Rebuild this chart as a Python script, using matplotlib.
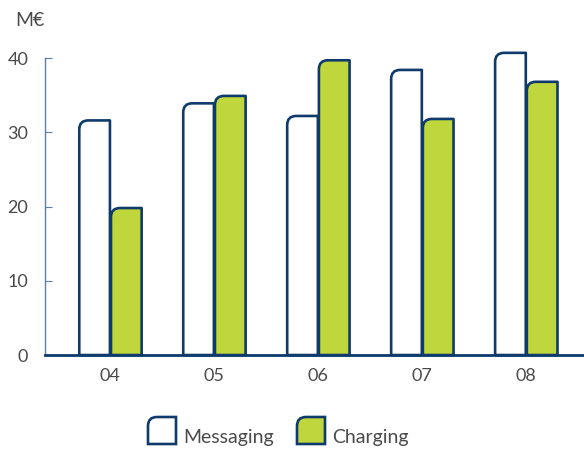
import matplotlib
matplotlib.use("Agg")
import matplotlib.pyplot as plt
from matplotlib.path import Path
from matplotlib.patches import PathPatch
import numpy as np

years = ["04", "05", "06", "07", "08"]
messaging = [31.6, 33.9, 32.2, 38.4, 40.7]
charging = [19.8, 34.9, 39.7, 31.8, 36.8]
series_names = ["Messaging", "Charging"]

navy = "#0e3a6c"
green = "#bfd73c"
text_col = "#4a4a4a"
plt.rcParams["font.family"] = ["Lato", "DejaVu Sans"]


def corner_path(x0, x1, y0, y1, rx, ry):
    # bar outline with only the top-left corner rounded
    verts = [(x0, y0), (x0, y1 - ry), (x0, y1), (x0 + rx, y1),
             (x1, y1), (x1, y0), (x0, y0)]
    codes = [Path.MOVETO, Path.LINETO, Path.CURVE3, Path.CURVE3,
             Path.LINETO, Path.LINETO, Path.CLOSEPOLY]
    return Path(verts, codes)


fig = plt.figure(figsize=(5.84, 4.5), dpi=100)
ax = fig.add_axes([0.077, 0.211, 0.923, 0.693])
ax.set_xlim(-0.625, 4.56)
ax.set_ylim(0, 42)

w = 0.305
x = np.arange(len(years))
# corner radius ~9 px expressed in data units
rx = 9 / (584 * 0.923) * (4.56 + 0.625)
ry = 9 / (450 * 0.693) * 42

for vals, off, fc in [(messaging, -w, "white"), (charging, 0.0, green)]:
    for xi, v in zip(x, vals):
        p = corner_path(xi + off + 0.01, xi + off + w, 0, v, rx, ry)
        ax.add_patch(PathPatch(p, facecolor=fc, edgecolor=navy, lw=1.9,
                               joinstyle="round", clip_on=False, zorder=3))

for s in ["top", "right"]:
    ax.spines[s].set_visible(False)
ax.spines["left"].set_bounds(0, 40)
ax.spines["left"].set_color("#5b7fa6")
ax.spines["left"].set_linewidth(1.0)
ax.spines["bottom"].set_color(navy)
ax.spines["bottom"].set_linewidth(2.0)
ax.spines["bottom"].set_zorder(4)

ax.set_yticks([0, 10, 20, 30, 40])
ax.tick_params(axis="y", direction="in", length=5, color="#5b7fa6",
               labelsize=13, labelcolor=text_col, pad=12)
ax.set_xticks(x)
ax.set_xticklabels(years)
ax.tick_params(axis="x", length=0, labelsize=13, labelcolor=text_col, pad=9)

fig.text(15 / 584, 1 - 20 / 450, "M€", fontsize=14, color=text_col,
         va="center", ha="left")

# legend drawn by hand to keep the rounded-corner boxes
lax = fig.add_axes([0, 0, 1, 1], facecolor="none")
lax.set_xlim(0, 584)
lax.set_ylim(450, 0)
lax.axis("off")
for bx, fc, name in [(148, "white", series_names[0]), (297, green, series_names[1])]:
    p = corner_path(bx, bx + 28, 444, 417, 9, -9)
    lax.add_patch(PathPatch(p, facecolor=fc, edgecolor=navy, lw=1.9))
    lax.text(bx + 35, 443, name, fontsize=14, color=text_col, va="baseline")

fig.savefig("out.png", dpi=100)
